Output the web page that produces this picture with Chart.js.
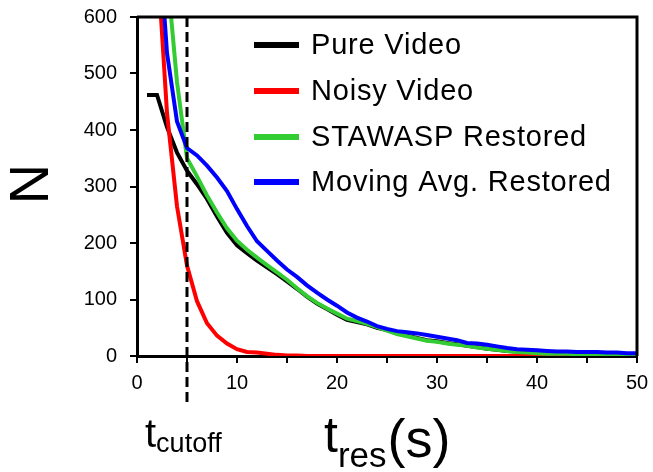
<!DOCTYPE html>
<html>
<head>
<meta charset="utf-8">
<script src="https://cdn.jsdelivr.net/npm/chart.js@4.4.1/dist/chart.umd.min.js"></script>
<style>
  html, body { margin: 0; padding: 0; background: #fff; }
  #wrap { width: 653px; height: 472px; }
</style>
</head>
<body>
<div id="wrap"><canvas id="c" width="653" height="472"></canvas></div>
<script>
// residence time (s)
const tRes = [1,2,3,4,5,6,7,8,9,10,11,12,13,14,15,16,17,18,19,20,
  21,22,23,24,25,26,27,28,29,30,31,32,33,34,35,36,37,38,39,40,
  41,42,43,44,45,46,47,48,49,50];

const pureVideo = [462,462,405,360,328,304,278,247,218,196,182,169,157,145,132,119,105,93,83,73,
  64,60,56,50,46,41,36,32,28,26,23,21,18,16,13,11,9,8,6,5,
  5,5,4,4,4,3,3,3,3,3];

const noisyVideo = [null,713,430,265,160,97,58,36,22,12,7,6,4,2,1,1,0,0,0,0,
  0,0,0,0,0,0,0,0,0,0,0,0,0,0,0,0,0,0,0,0,
  0,0,0,0,0,0,0,0,0,0];

const stawaspRestored = [null,900,680,485,350,318,284,254,226,204,188,174,161,148,135,120,106,94,84,75,
  66,62,57,51,45,39,35,31,27,25,22,20,18,15,13,11,9,7,6,5,
  4,4,4,3,3,3,3,3,3,3];

const movingAvgRestored = [null,790,536,415,368,355,337,316,292,260,230,203,186,169,153,140,125,112,100,89,
  77,68,61,53,48,44,42,40,37,34,31,28,23,22,20,17,14,12,11,10,
  9,8,8,7,7,7,6,6,5,5];

const seriesNames = ['Pure Video', 'Noisy Video', 'STAWASP Restored', 'Moving Avg. Restored'];
const seriesColors = ['#000000', '#ff0000', '#33cc33', '#0000ff'];
const yTicks = [0,100,200,300,400,500,600];
const xTicks = [0,10,20,30,40,50];
const tCutoff = 5;

const FONT = "'Liberation Sans', Arial, sans-serif";

function toPoints(vals) {
  return tRes.map((t, i) => ({ x: t, y: vals[i] }));
}

const allSeries = [pureVideo, noisyVideo, stawaspRestored, movingAvgRestored];

// frame, cutoff line, legend and axis titles
const extras = {
  id: 'extras',
  afterDatasetsDraw(chart) {
    const ctx = chart.ctx;
    const area = chart.chartArea;
    const xs = chart.scales.x;

    ctx.save();
    // top and right frame
    ctx.strokeStyle = '#000';
    ctx.lineWidth = 3;
    ctx.beginPath();
    ctx.moveTo(area.left, area.top);
    ctx.lineTo(area.right, area.top);
    ctx.lineTo(area.right, area.bottom);
    ctx.stroke();

    // cutoff dashed line
    const cx = xs.getPixelForValue(tCutoff);
    ctx.setLineDash([10, 5]);
    ctx.lineWidth = 3;
    ctx.beginPath();
    ctx.moveTo(cx, area.top);
    ctx.lineTo(cx, 405);
    ctx.stroke();
    ctx.setLineDash([]);

    // legend
    const rows = [45, 91, 137, 182];
    ctx.font = '29px ' + FONT;
    ctx.textBaseline = 'middle';
    ctx.textAlign = 'left';
    try { ctx.letterSpacing = '0.8px'; } catch (e) {}
    seriesNames.forEach((name, i) => {
      ctx.strokeStyle = seriesColors[i];
      ctx.lineWidth = 6;
      ctx.beginPath();
      ctx.moveTo(254, rows[i]);
      ctx.lineTo(299, rows[i]);
      ctx.stroke();
      ctx.fillStyle = '#000';
      ctx.fillText(name, 311, rows[i] + 1);
    });
    try { ctx.letterSpacing = '0px'; } catch (e) {}

    // y title
    ctx.fillStyle = '#000';
    ctx.save();
    ctx.translate(33, 184);
    ctx.rotate(-Math.PI / 2);
    ctx.font = '56px ' + FONT;
    ctx.textAlign = 'center';
    ctx.textBaseline = 'middle';
    ctx.fillText('N', 0, 0);
    ctx.restore();

    // x title t_res(s)
    ctx.textBaseline = 'alphabetic';
    let x = 324;
    ctx.font = '50px ' + FONT;
    ctx.fillText('t', x, 452);
    x += ctx.measureText('t').width;
    ctx.font = '35px ' + FONT;
    ctx.fillText('res', x, 467);
    x += ctx.measureText('res').width + 1;
    ctx.font = '54px ' + FONT;
    ctx.fillText('(s)', x, 457);

    // t_cutoff label
    x = 145;
    ctx.font = '40px ' + FONT;
    ctx.fillText('t', x, 447);
    x += ctx.measureText('t').width;
    ctx.font = '27px ' + FONT;
    ctx.fillText('cutoff', x, 452);

    ctx.restore();
  }
};

new Chart(document.getElementById('c'), {
  type: 'line',
  data: {
    datasets: allSeries.map((vals, i) => ({
      label: seriesNames[i],
      data: toPoints(vals),
      borderColor: seriesColors[i],
      backgroundColor: seriesColors[i],
      borderWidth: 4,
      pointRadius: 0,
      tension: 0,
      spanGaps: false,
      clip: 0
    })).reverse()
  },
  options: {
    responsive: false,
    animation: false,
    devicePixelRatio: 1,
    layout: { padding: { top: 17, right: 16, left: 0, bottom: 0 } },
    plugins: { legend: { display: false }, tooltip: { enabled: false } },
    scales: {
      x: {
        type: 'linear',
        min: 0,
        max: 50,
        afterFit(s) { s.height = 116; s.paddingLeft = 0; s.paddingRight = 0; },
        afterBuildTicks(s) {
          const t = [];
          for (let v = 0; v <= 50; v += 5) t.push({ value: v });
          s.ticks = t;
        },
        ticks: {
          color: '#000',
          font: { family: FONT, size: 20 },
          padding: 8,
          maxRotation: 0,
          autoSkip: false,
          callback: v => xTicks.includes(v) ? String(v) : ''
        },
        grid: { drawOnChartArea: false, drawTicks: true, tickLength: 7, color: '#000', lineWidth: 2 },
        border: { display: true, color: '#000', width: 3 }
      },
      y: {
        type: 'linear',
        min: 0,
        max: 600,
        afterFit(s) { s.width = 137; s.paddingTop = 0; s.paddingBottom = 0; },
        afterBuildTicks(s) { s.ticks = yTicks.map(v => ({ value: v })); },
        ticks: {
          color: '#000',
          font: { family: FONT, size: 20 },
          padding: 13,
          autoSkip: false
        },
        grid: { drawOnChartArea: false, drawTicks: true, tickLength: 7, color: '#000', lineWidth: 2 },
        border: { display: true, color: '#000', width: 3 }
      }
    }
  },
  plugins: [extras]
});
</script>
</body>
</html>
